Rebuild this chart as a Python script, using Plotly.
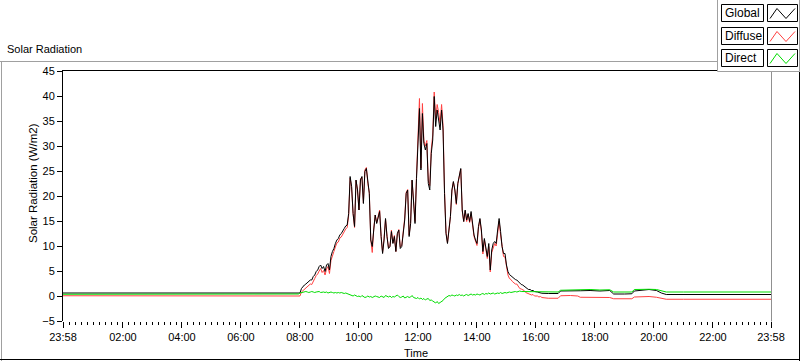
import plotly.graph_objects as go

# ---------------- data (minutes from midnight; start of window is 23:58 = -2) ----------------
night_times = [-2, 60, 180, 300, 420, 470, 477]
global_night = [0.6, 0.6, 0.6, 0.6, 0.6, 0.6, 0.6]
direct_night = [0.35, 0.35, 0.35, 0.35, 0.35, 0.35, 0.4]
diffuse_night = [0.05, 0.05, 0.05, 0.05, 0.05, 0.05, 0.05]

day_start = 480   # 08:00
day_step = 3      # minutes between samples
global_day = [0.6,1.5,1.9,2.2,2.4,2.7,2.9,3.2,3.2,3.9,
              4.2,4.9,5.2,5.9,6.2,5.5,5.9,4.9,6.2,6.5,
              5.2,7.9,8.9,9.5,10.5,11.2,11.5,12.2,12.5,12.9,
              13.5,14.0,14.2,16.5,23.9,21.9,16.5,13.9,23.2,21.2,
              17.2,23.2,23.9,18.5,24.9,25.5,22.5,20.5,11.2,9.9,
              13.2,16.2,14.5,15.9,16.9,11.9,8.5,11.2,15.5,11.9,
              9.5,9.9,12.9,10.5,11.9,8.9,12.5,13.2,9.5,9.9,
              12.9,15.2,20.5,21.2,11.9,14.5,23.2,17.5,14.5,23.5,
              29.9,37.5,25.2,36.5,30.5,29.2,30.5,22.5,21.2,28.5,
              31.2,39.9,33.9,37.2,35.2,33.2,37.2,33.2,20.5,12.5,
              10.5,13.9,15.9,21.2,22.9,21.2,18.5,22.5,24.5,25.5,
              17.2,14.9,17.2,15.2,16.5,14.9,16.9,13.9,12.2,11.2,
              10.5,13.9,15.5,13.2,8.9,11.5,9.9,7.9,10.5,5.2,
              9.2,10.5,10.9,10.5,13.2,15.5,12.9,9.9,8.5,8.5,
              6.2,4.9,4.3,4.0,3.7,3.5,3.3,3.2,2.9,2.5,
              2.3,2.2,1.9,1.6,1.5,1.3,1.3,1.1,1.1,0.9,
              0.9,0.8,0.7,0.7]
direct_day = [0.6,0.7,0.8,0.8,
              0.9,0.8,0.7,0.8,0.9,0.8,0.7,0.8,0.8,0.9,0.7,0.8,0.8,0.7,0.8,0.6,
              0.7,0.8,0.7,0.6,0.7,0.6,0.7,0.6,0.7,0.6,0.5,0.6,0.5,
              0.4,0.3,0.2,0.0,0.2,0.1,-0.1,0.0,-0.2,0.1,-0.1,-0.3,-0.2,0.0,-0.2,
              -0.1,-0.3,-0.2,0.0,-0.1,-0.2,-0.3,
              0.0,-0.2,-0.3,0.1,-0.1,-0.2,0.0,-0.3,-0.1,-0.2,0.0,0.2,-0.1,-0.3,
              -0.2,0.0,-0.4,-0.2,-0.1,-0.3,-0.2,0.1,-0.3,-0.4,
              -0.5,-0.3,-0.6,-0.4,-0.7,-0.5,-0.8,-0.6,-0.5,-0.9,-0.8,-1.0,-1.2,
              -1.4,-1.1,-1.5,-1.3,-1.1,-0.9,
              -0.5,-0.3,
              -0.1,0.1,0.0,0.2,0.1,0.0,0.2,0.1,0.3,0.1,0.2,0.0,0.2,0.3,0.1,0.2,
              0.4,0.2,0.3,0.2,0.4,0.3,0.2,
              0.4,0.5,0.3,0.5,0.4,0.6,0.4,0.5,0.6,0.4,0.5,0.6,0.5,0.7,0.5,0.6,
              0.7,0.6,0.7,0.8,0.7,0.8,0.9,
              0.9,0.8,0.9,1.0,0.9,0.9,0.8,0.9,0.9,0.8,0.9,0.9,0.8,0.9,0.9,0.8,
              0.9,0.8]
diffuse_day = [0.0,0.8,1.1,1.4,1.5,1.9,2.2,2.4,2.3,3.1,
               3.5,4.1,4.4,5.0,5.5,4.7,5.1,4.2,5.4,5.9,
               4.5,7.1,8.2,8.9,9.8,10.6,10.8,11.6,11.8,12.3,
               13.0,13.4,13.7,16.1,23.6,21.7,16.5,13.7,23.1,21.3,
               17.2,23.4,23.8,18.6,25.2,25.7,22.5,20.7,11.3,8.7,
               13.4,16.2,14.6,16.1,17.2,11.9,8.7,11.5,15.4,12.0,
               9.7,9.9,13.2,10.6,12.1,8.9,12.3,13.3,9.8,10.1,
               12.9,15.6,20.7,21.3,12.2,14.7,23.1,17.8,14.9,24.0,
               30.2,39.5,25.6,38.5,31.0,30.0,31.1,23.0,22.1,29.3,
               32.2,40.8,35.3,38.3,36.7,34.5,38.3,34.1,21.0,12.8,
               10.6,13.8,15.9,21.0,22.8,21.2,18.3,22.4,24.2,25.4,
               17.0,14.9,17.0,14.9,16.4,14.7,16.5,13.7,11.9,11.0,
               10.1,13.6,15.3,12.8,8.4,11.2,9.4,7.5,9.9,4.8,
               8.7,9.9,10.5,10.0,12.6,15.0,12.2,9.4,7.9,7.8,
               5.6,4.2,3.5,3.3,2.9,2.6,2.4,2.4,2.0,1.5,
               1.4,1.3,1.1,0.7,0.6,0.5,0.4,0.2,0.3,0.0,
               0.0,0.0,-0.2,-0.1]

eve_times = [972, 985, 1005, 1010, 1030, 1045, 1050, 1070, 1090, 1110, 1118, 1140, 1155,
             1160, 1175, 1190, 1205, 1215, 1225, 1260, 1300, 1330, 1350, 1390, 1438]
global_eve = [0.55, 0.5, 0.5, 1.0, 1.1, 1.1, 1.05, 1.1, 1.0, 1.1, 0.4, 0.4, 0.45,
              1.0, 1.2, 1.3, 1.1, 0.6, 0.3, 0.3, 0.25, 0.3, 0.25, 0.3, 0.3]
direct_eve = [0.8, 0.8, 0.8, 1.15, 1.2, 1.25, 1.2, 1.3, 1.2, 1.25, 0.8, 0.8, 0.8,
              1.3, 1.4, 1.35, 1.3, 1.0, 0.8, 0.8, 0.8, 0.8, 0.8, 0.8, 0.8]
diffuse_eve = [-0.3, -0.45, -0.45, 0.05, 0.1, 0.0, -0.25, -0.3, -0.25, -0.3, -0.55, -0.6, -0.55,
               -0.2, -0.15, -0.1, -0.25, -0.5, -0.65, -0.65, -0.65, -0.65, -0.65, -0.65, -0.65]

tick_vals = [-2, 120, 240, 360, 480, 600, 720, 840, 960, 1080, 1200, 1320, 1438]
tick_text = ["23:58", "02:00", "04:00", "06:00", "08:00", "10:00", "12:00",
             "14:00", "16:00", "18:00", "20:00", "22:00", "23:58"]
y_ticks = [-5, 0, 5, 10, 15, 20, 25, 30, 35, 40, 45]

series_names = ["Global", "Diffuse", "Direct"]
series_colors = {"Global": "#000000", "Diffuse": "#ff4040", "Direct": "#00dd00"}

# ---------------- assemble ----------------
day_times = [day_start + day_step * i for i in range(len(global_day))]
times = night_times + day_times + eve_times
series = {
    "Global": global_night + global_day + global_eve,
    "Diffuse": diffuse_night + diffuse_day + diffuse_eve,
    "Direct": direct_night + direct_day + direct_eve,
}

W, H = 800, 361
L, R, T, B = 63, 771, 71, 321


def px(x):
    return (x - L) / (R - L)


def py(y):
    return (B - y) / (B - T)


FONT = "Liberation Sans, Arial, sans-serif"

fig = go.Figure()
for name in ["Diffuse", "Global", "Direct"]:
    fig.add_trace(go.Scatter(x=times, y=series[name], mode="lines", name=name,
                             line=dict(color=series_colors[name], width=1),
                             showlegend=False, hoverinfo="skip"))

shapes = []


def line(x0, y0, x1, y1, color, width=1):
    shapes.append(dict(type="line", xref="paper", yref="paper",
                       x0=px(x0), y0=py(y0), x1=px(x1), y1=py(y1),
                       line=dict(color=color, width=width)))


def rect(x0, y0, x1, y1, color, fill="white"):
    shapes.append(dict(type="rect", xref="paper", yref="paper",
                       x0=px(x0), y0=py(y0), x1=px(x1), y1=py(y1),
                       line=dict(color=color, width=1), fillcolor=fill))


# outer frame (sunken look)
line(0, 61.5, 717, 61.5, "#a0a0a0")
line(1.5, 61.5, 1.5, 361, "#a0a0a0")
line(0, 359.5, 800, 359.5, "#000000")
line(799.5, 72, 799.5, 361, "#000000")
# plot area borders
line(62, 70.5, 717, 70.5, "#000000")
line(771.5, 70.5, 771.5, 321.5, "#909090")
# legend panel
rect(717.5, -2, 799.5, 71.5, "#a0a0a0")
rows = [(4.5, 21.5), (27.5, 44.5), (49.5, 66.5)]
annotations = []
for (top, bot), name in zip(rows, series_names):
    rect(721.5, top, 763.5, bot, "#000000")
    rect(767.5, top, 797.5, bot, "#000000")
    pts = [(770, bot - 3), (777, top + 4), (786, bot - 3), (795, top + 4)]
    path = "M " + " L ".join(f"{px(a):.5f},{py(b):.5f}" for a, b in pts)
    shapes.append(dict(type="path", xref="paper", yref="paper", path=path,
                       line=dict(color=series_colors[name], width=1)))
    annotations.append(dict(text=name, xref="paper", yref="paper",
                            x=px(723), y=py((top + bot) / 2), xanchor="left", yanchor="middle",
                            showarrow=False, font=dict(family=FONT, size=12, color="#000000")))

annotations += [
    dict(text="Solar Radiation", xref="paper", yref="paper", x=px(5), y=py(49),
         xanchor="left", yanchor="middle", showarrow=False,
         font=dict(family=FONT, size=11, color="#000000")),
    dict(text="Solar Radiation (W/m2)", xref="paper", yref="paper", x=px(33), y=py(183),
         xanchor="center", yanchor="middle", textangle=-90, showarrow=False,
         font=dict(family=FONT, size=11.5, color="#000000")),
    dict(text="Time", xref="paper", yref="paper", x=px(416), y=py(353),
         xanchor="center", yanchor="middle", showarrow=False,
         font=dict(family=FONT, size=11, color="#000000")),
]

fig.update_layout(
    width=W, height=H,
    margin=dict(l=L, r=W - R, t=T, b=H - B, pad=0),
    paper_bgcolor="white", plot_bgcolor="white",
    shapes=shapes, annotations=annotations,
    font=dict(family=FONT, size=11, color="#000000"),
    xaxis=dict(range=[-2, 1438], tickmode="array", tickvals=tick_vals, ticktext=tick_text,
               ticks="outside", ticklen=6, tickcolor="#000000", tickwidth=1,
               showgrid=False, zeroline=False, showline=False,
               tickfont=dict(family=FONT, size=11, color="#000000"),
               minor=dict(tickmode="linear", tick0=0, dtick=12, ticks="outside", ticklen=3,
                          tickcolor="#000000", showgrid=False)),
    yaxis=dict(range=[-5, 45], tickmode="array", tickvals=y_ticks,
               ticks="outside", ticklen=5, tickcolor="#000000", tickwidth=1,
               showgrid=False, zeroline=False, showline=True, linecolor="#000000", linewidth=1,
               tickfont=dict(family=FONT, size=11, color="#000000")),
)

fig.write_html("out.html", config={"displayModeBar": False},
               post_script="document.body.style.margin='0';document.body.style.overflow='hidden';")
